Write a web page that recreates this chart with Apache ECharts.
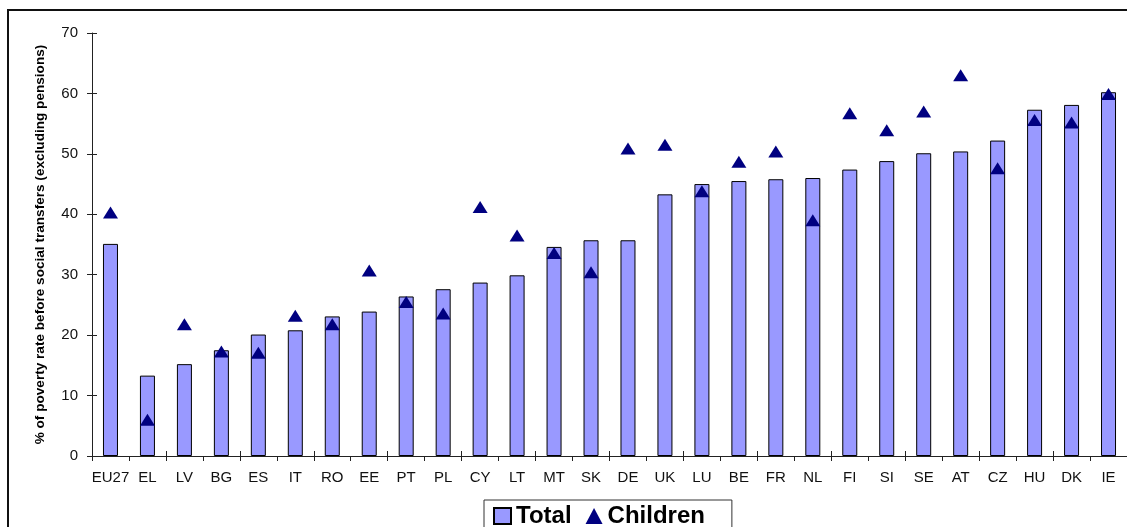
<!DOCTYPE html>
<html>
<head>
<meta charset="utf-8">
<script src="https://cdn.jsdelivr.net/npm/echarts@6/dist/echarts.min.js"></script>
<style>
  html, body { margin: 0; padding: 0; background: #fff; }
  #chart { width: 1127px; height: 527px; }
</style>
</head>
<body>
<div id="chart"></div>
<script>
// Country codes, ordered by total poverty rate before social transfers
const countries = ['EU27', 'EL', 'LV', 'BG', 'ES', 'IT', 'RO', 'EE', 'PT', 'PL', 'CY', 'LT', 'MT', 'SK',
  'DE', 'UK', 'LU', 'BE', 'FR', 'NL', 'FI', 'SI', 'SE', 'AT', 'CZ', 'HU', 'DK', 'IE'];

// Total population (bars)
const totalValues = [35.1, 13.3, 15.2, 17.5, 20.1, 20.8, 23.1, 23.9, 26.4, 27.6, 28.7, 29.9, 34.6, 35.7,
  35.7, 43.3, 45.0, 45.5, 45.8, 46.0, 47.4, 48.8, 50.1, 50.4, 52.2, 57.3, 58.1, 60.2];

// Children (triangle markers)
const childrenValues = [40.3, 6.0, 21.8, 17.3, 17.1, 23.2, 21.8, 30.7, 25.5, 23.6, 41.2, 36.5, 33.6, 30.4,
  50.9, 51.5, 43.8, 48.7, 50.4, 39.0, 56.7, 53.9, 57.0, 63.0, 47.6, 55.6, 55.2, 59.9];

const yTicks = { min: 0, max: 70, interval: 10 };
const yAxisTitle = '% of poverty rate before social transfers (excluding pensions)';
const seriesNames = ['Total', 'Children'];

const FONT = '"Liberation Sans", Arial, sans-serif';
const AXIS_COLOR = '#222';

const chart = echarts.init(document.getElementById('chart'), null, { renderer: 'canvas' });

// Cross-style tick marks: one axis draws ticks outside, a twin draws them inside.
const baseX = {
  type: 'category',
  data: countries,
  boundaryGap: true,
  position: 'bottom'
};
const baseY = {
  type: 'value',
  min: yTicks.min,
  max: yTicks.max,
  interval: yTicks.interval,
  position: 'left',
  splitLine: { show: false }
};

chart.setOption({
  backgroundColor: '#fff',
  animation: false,
  grid: { left: 92, right: -3, top: 33, bottom: 71, containLabel: false },
  graphic: [{
    type: 'rect',
    shape: { x: 8, y: 10, width: 1130, height: 530 },
    style: { fill: 'none', stroke: '#111', lineWidth: 2 },
    silent: true,
    z: -10
  }],
  legend: {
    data: [
      { name: seriesNames[0], icon: 'rect' },
      { name: seriesNames[1], icon: 'triangle' }
    ],
    left: 484,
    top: 500,
    orient: 'horizontal',
    itemWidth: 17,
    itemHeight: 16,
    itemGap: 14,
    padding: [4, 27, 12, 9],
    borderColor: '#333',
    borderWidth: 1,
    backgroundColor: '#fff',
    textStyle: { fontFamily: FONT, fontSize: 24, fontWeight: 'bold', color: '#000' }
  },
  xAxis: [
    Object.assign({}, baseX, {
      axisLine: { show: true, lineStyle: { color: AXIS_COLOR, width: 1 } },
      axisTick: { show: true, inside: false, length: 5, lineStyle: { color: AXIS_COLOR } },
      axisLabel: { fontFamily: FONT, fontSize: 15, color: '#111', margin: 14, interval: 0 }
    }),
    Object.assign({}, baseX, {
      axisLine: { show: false },
      axisTick: { show: true, inside: true, length: 5, lineStyle: { color: AXIS_COLOR } },
      axisLabel: { show: false }
    })
  ],
  yAxis: [
    Object.assign({}, baseY, {
      name: yAxisTitle,
      nameLocation: 'middle',
      nameGap: 45,
      nameTextStyle: { fontFamily: FONT, fontSize: 13.6, fontWeight: 'bold', color: '#000' },
      axisLine: { show: true, lineStyle: { color: AXIS_COLOR, width: 1 } },
      axisTick: { show: true, inside: false, length: 5, lineStyle: { color: AXIS_COLOR } },
      axisLabel: { fontFamily: FONT, fontSize: 15, color: '#111', margin: 14 }
    }),
    Object.assign({}, baseY, {
      axisLine: { show: false },
      axisTick: { show: true, inside: true, length: 5, lineStyle: { color: AXIS_COLOR } },
      axisLabel: { show: false }
    })
  ],
  series: [
    {
      name: seriesNames[0],
      type: 'bar',
      xAxisIndex: 0,
      yAxisIndex: 0,
      data: totalValues,
      barWidth: 15,
      itemStyle: { color: '#9999FF', borderColor: '#000', borderWidth: 1 },
      z: 2
    },
    {
      name: seriesNames[1],
      type: 'scatter',
      xAxisIndex: 0,
      yAxisIndex: 0,
      data: childrenValues,
      symbol: 'triangle',
      symbolSize: [15, 12],
      itemStyle: { color: '#000080', opacity: 1 },
      z: 5
    }
  ]
});
</script>
</body>
</html>
